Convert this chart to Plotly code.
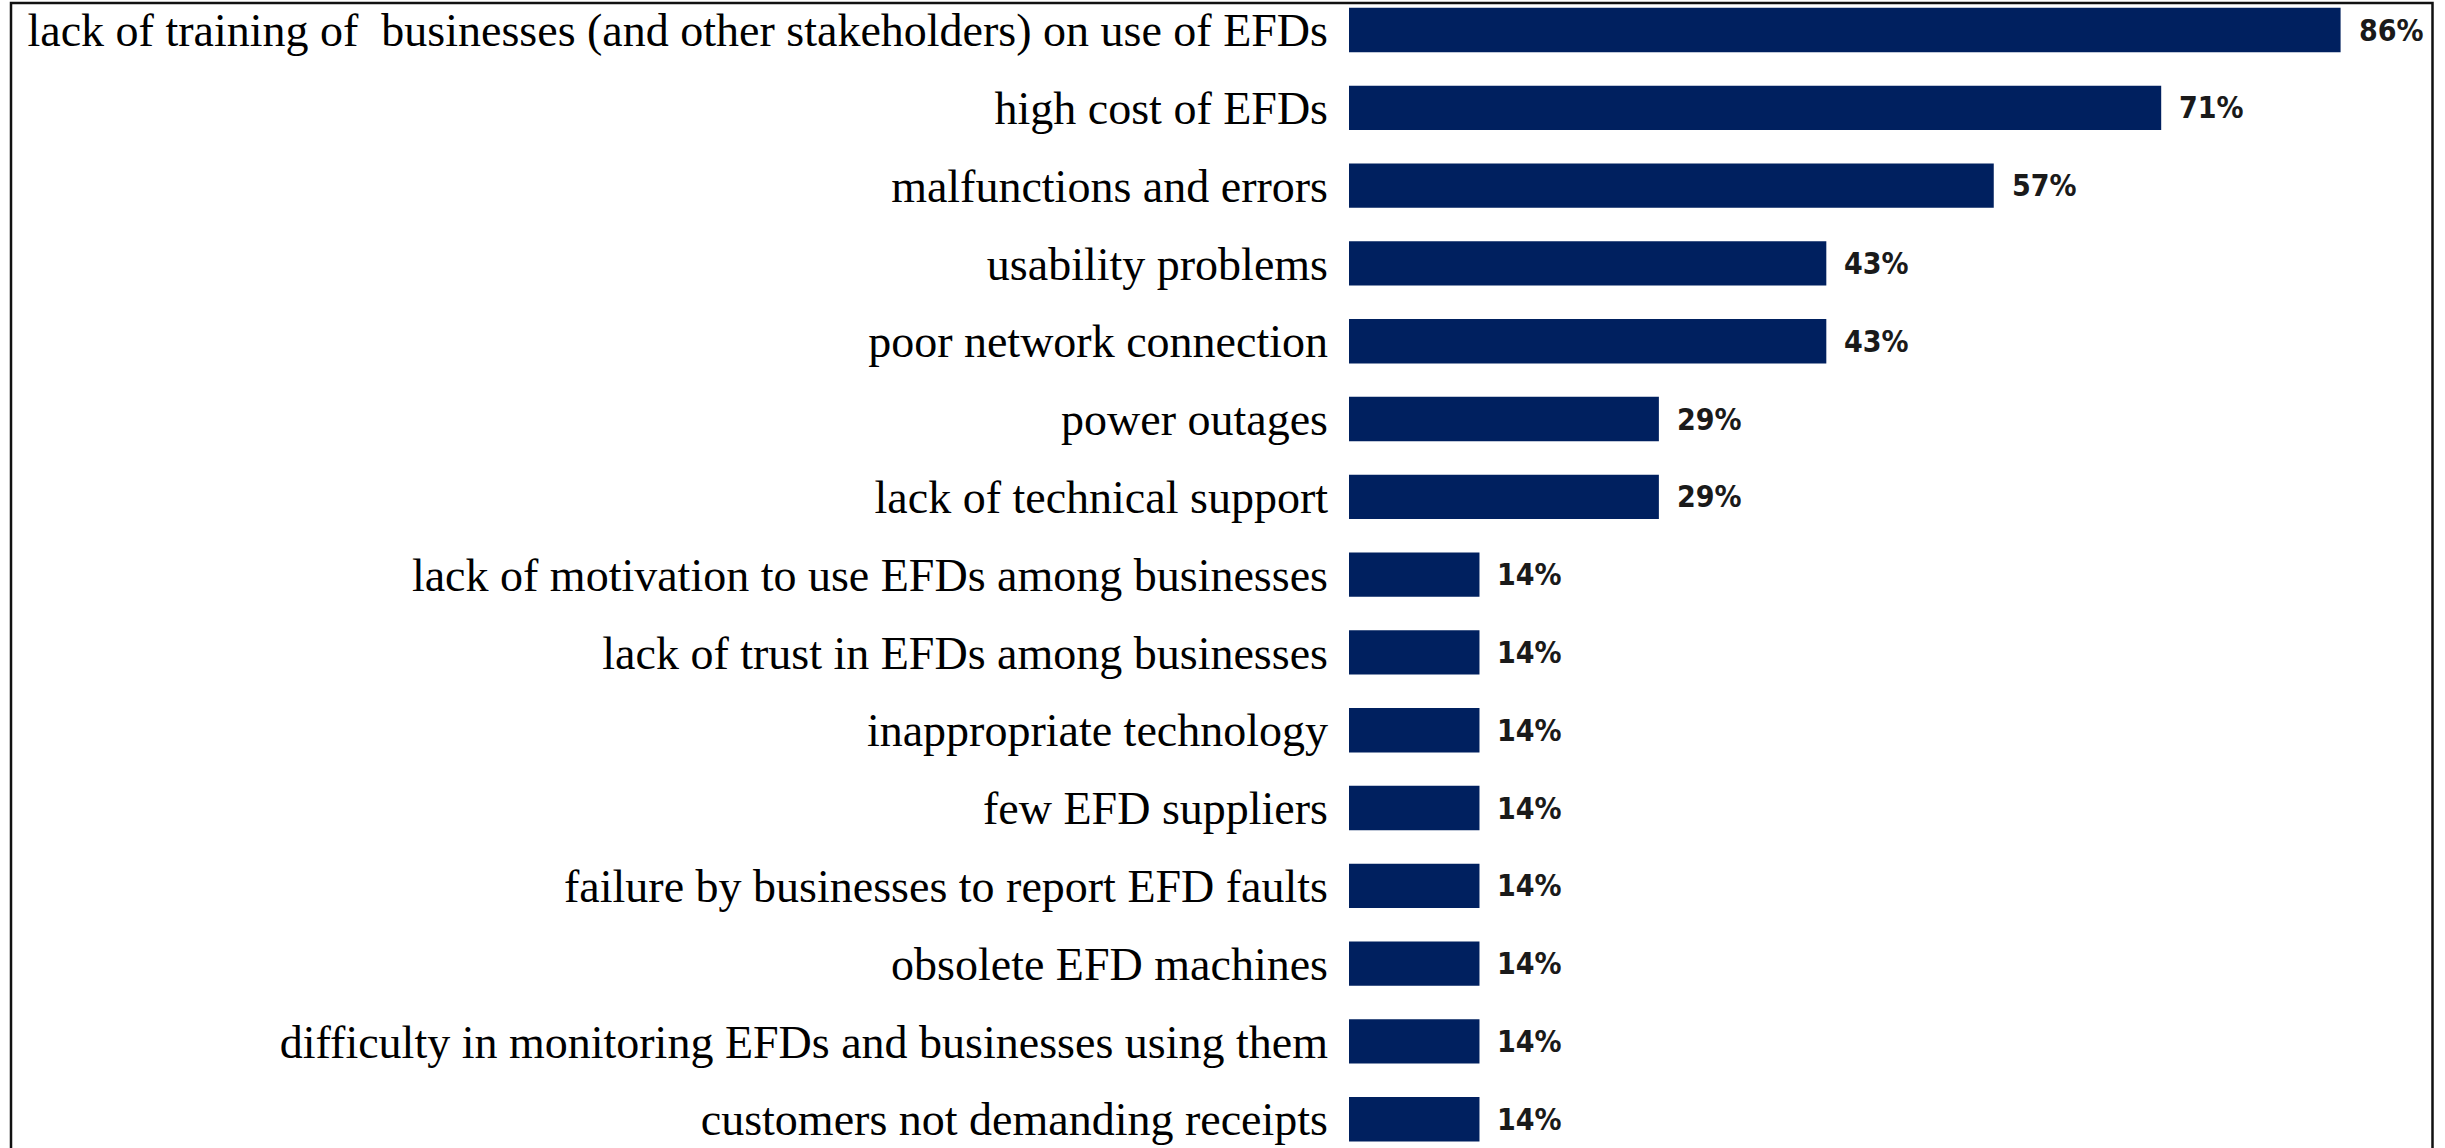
import plotly.graph_objects as go

categories = [
    "lack of training of  businesses (and other stakeholders) on use of EFDs",
    "high cost of EFDs",
    "malfunctions and errors",
    "usability problems",
    "poor network connection",
    "power outages",
    "lack of technical support",
    "lack of motivation to use EFDs among businesses",
    "lack of trust in EFDs among businesses",
    "inappropriate technology",
    "few EFD suppliers",
    "failure by businesses to report EFD faults",
    "obsolete EFD machines",
    "difficulty in monitoring EFDs and businesses using them",
    "customers not demanding receipts",
]
values = [86, 71, 57, 43, 43, 29, 29, 14, 14, 14, 14, 14, 14, 14, 14]
value_labels = [f"{v}%" for v in values]

W, H = 2445, 1148
ML, MR = 1349, 11
plot_w = W - ML - MR

fig = go.Figure()
fig.add_trace(go.Bar(
    x=values,
    y=categories,
    orientation="h",
    width=0.57,
    marker=dict(color="#00205F", line=dict(width=0)),
    hoverinfo="skip",
))

for v, c, t in zip(values, categories, value_labels):
    fig.add_annotation(
        x=v, y=c, text=t, showarrow=False,
        xanchor="left", yanchor="middle", xshift=16,
        font=dict(family="Liberation Sans Narrow, DejaVu Sans Condensed, Arial Narrow, sans-serif",
                  size=30, color="#1a1a1a", weight="bold"),
    )

# frame around the picture
fig.add_shape(
    type="rect", xref="paper", yref="paper",
    x0=(11 - ML) / plot_w, x1=1.0 - 1.5 / plot_w,
    y0=-0.02, y1=1 - 3 / H,
    line=dict(color="#111111", width=2.5),
    fillcolor="rgba(0,0,0,0)",
    layer="above",
)

fig.update_layout(
    width=W, height=H,
    margin=dict(l=ML, r=MR, t=0, b=0, pad=0),
    paper_bgcolor="white", plot_bgcolor="white",
    showlegend=False,
    bargap=0.43,
)
fig.update_xaxes(range=[3.09, 3.09 + plot_w / 11.96], showgrid=False, zeroline=False,
                 showticklabels=False, showline=False, ticks="", fixedrange=True)
fig.update_yaxes(
    categoryorder="array", categoryarray=categories,
    range=[14.37, -0.386],
    showgrid=False, zeroline=False, showline=False, ticks="",
    automargin=False, ticklabelstandoff=20,
    tickfont=dict(family="Liberation Serif, Times New Roman, serif", size=46, color="#000000"),
)

fig.write_html("out.html")
